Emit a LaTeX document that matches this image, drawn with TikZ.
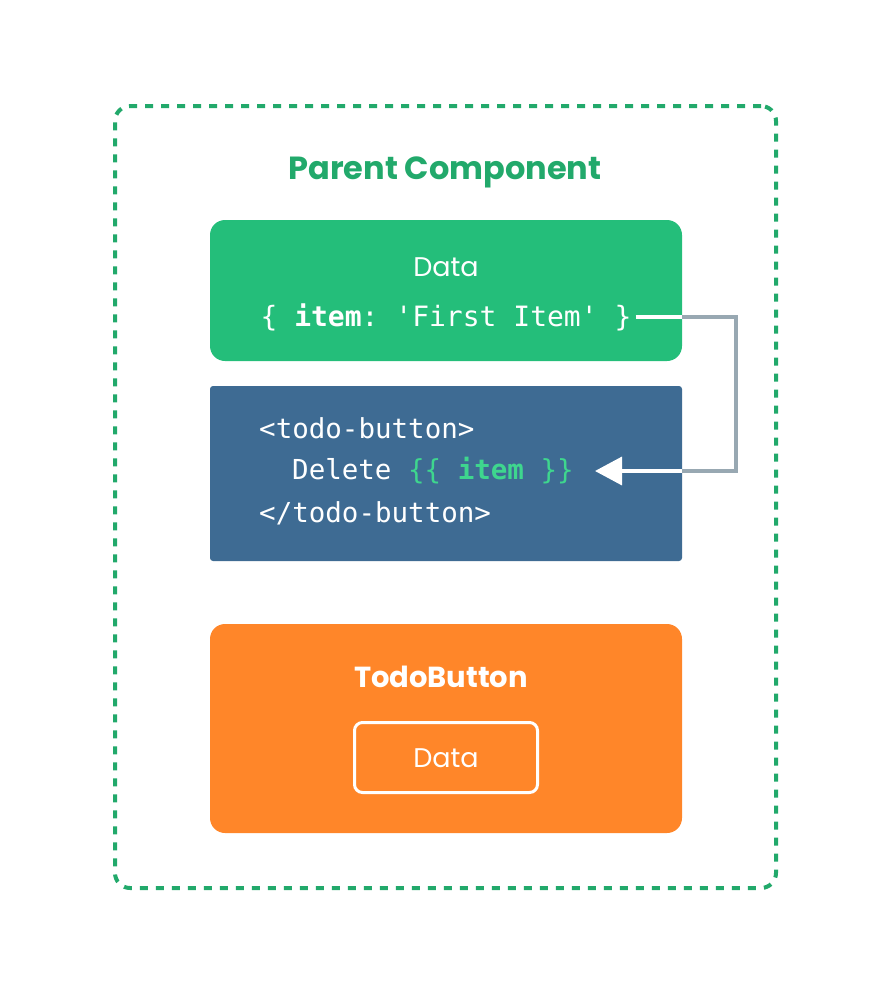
\documentclass[tikz,border=0pt]{standalone}
\usepackage{fontspec}
\setmainfont{Poppins}
\setmonofont{DejaVu Sans Mono}
\usepackage{tikz}
\usetikzlibrary{arrows.meta}
\definecolor{framegreen}{HTML}{22A96B}
\definecolor{datagreen}{HTML}{24BE7A}
\definecolor{codeblue}{HTML}{3E6B93}
\definecolor{itemgreen}{HTML}{3ED68E}
\definecolor{btnorange}{HTML}{FF8629}
\definecolor{wiregray}{HTML}{98A8B2}

\begin{document}
\begin{tikzpicture}[x=1pt, y=-1pt,
  panel/.style={draw=none, minimum width=472pt, inner sep=0pt},
  label/.style={text=white, anchor=base, inner sep=0pt, font=\fontsize{27}{32}\selectfont},
  codeline/.style={text=white, anchor=base west, inner sep=0pt, font=\fontsize{27.5}{32}\selectfont\ttfamily},
  wire/.style={line width=3.5pt}]
\useasboundingbox (0,0) rectangle (894,996);
%outer frame
\node[draw=framegreen, line width=4pt, dash pattern=on 8pt off 8pt, rounded corners=15pt,
  minimum width=661pt, minimum height=782pt] (parent) at (445.5,497) {};
\node[label, text=framegreen, font=\fontsize{32}{36}\selectfont\bfseries] (title) at (445,179) {Parent Component};
%boxes
\node[panel, fill=datagreen, rounded corners=15pt, minimum height=141pt] (data) at (446,290.5) {};
\node[panel, fill=codeblue, rounded corners=3pt, minimum height=175pt] (code) at (446,473.5) {};
\node[panel, fill=btnorange, rounded corners=15pt, minimum height=209pt] (button) at (446,728.5) {};
\node[draw=white, line width=3pt, rounded corners=8pt, minimum width=183pt, minimum height=70pt] (inner) at (446,757.5) {};
%texts
\node[label] (datalabel) at (446,276) {Data};
\node[label, inner sep=4pt, anchor=base, font=\fontsize{28}{32}\selectfont\ttfamily] (dataval) at (446,326)
  {\{ \textbf{item}: 'First Item' \}};
\node[codeline] (open) at (259,438) {<todo-button>};
\node[codeline, inner sep=4pt] (delete) at (288,479)
  {Delete \textcolor{itemgreen}{\{\{ \textbf{item} \}\}}};
\node[codeline] (close) at (259,522) {</todo-button>};
\node[label, font=\fontsize{29}{34}\selectfont\bfseries] (btnlabel) at (441,687) {TodoButton};
\node[label] (innerlabel) at (446,767) {Data};
%connector
\coordinate (tip) at (595,471);
\draw[wire, white] (dataval.east) -- (data.east |- dataval.east);
\draw[wire, wiregray] (data.east |- dataval.east) -- ++(54,0) |- (code.east |- tip);
\draw[wire, white, -{Triangle[length=27pt, width=28pt]}] (code.east |- tip) -- (tip);
\end{tikzpicture}
\end{document}
